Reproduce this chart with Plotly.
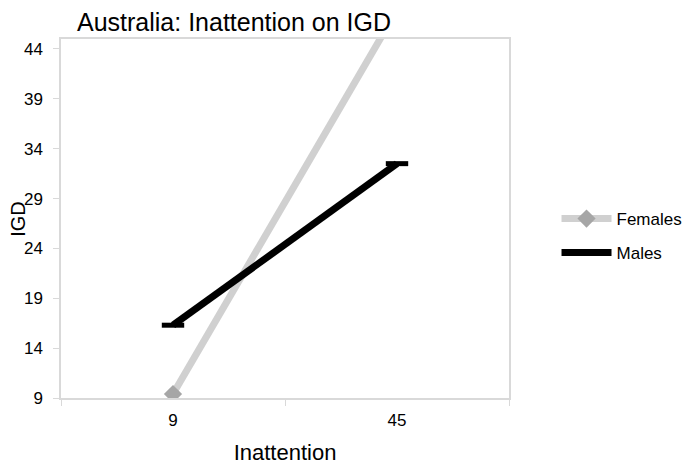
import plotly.graph_objects as go

# Data
inattention = ["9", "45"]
females = [9.4, 47.9]
males = [16.3, 32.5]
y_ticks = [9, 14, 19, 24, 29, 34, 39, 44]

axis_grey = "#d9d9d9"
font_family = "Liberation Sans, Arial, sans-serif"

fig = go.Figure()

fig.add_trace(go.Scatter(
    x=inattention, y=females, name="Females", mode="lines+markers",
    line=dict(color="#d0d0d0", width=7),
    marker=dict(symbol="diamond", size=14, color="#a6a6a6"),
    legend="legend",
))

fig.add_trace(go.Scatter(
    x=inattention, y=males, name="Males", mode="lines+markers",
    line=dict(color="#000000", width=7),
    marker=dict(symbol="line-ew-open", size=16, line=dict(color="#000000", width=5)),
    legend="legend2",
))

# the page body adds an 8px offset, so the plot area is placed at x 53..515, y 31..390
L, R, T, B = 53, 515, 31, 390

def px_x(p):
    return (p - L) / (R - L)

def px_y(p):
    return (B - p) / (B - T)

legend_style = dict(xanchor="left", yanchor="top", font=dict(size=17),
                    itemwidth=50, bgcolor="rgba(0,0,0,0)")

fig.update_layout(
    width=691, height=464,
    paper_bgcolor="white", plot_bgcolor="white",
    margin=dict(l=L, r=691 - R, t=T, b=464 - B),
    font=dict(family=font_family, color="#000000"),
    title=dict(text="Australia: Inattention on IGD", x=69 / 691, xanchor="left",
               y=1 - 14 / 464, yanchor="middle", font=dict(size=25)),
    showlegend=True,
    legend=dict(x=px_x(564), y=px_y(193), **legend_style),
    legend2=dict(x=px_x(564), y=px_y(227), **legend_style),
    annotations=[dict(text="IGD", textangle=-90, xref="paper", yref="paper",
                      x=px_x(8), y=0.5, xanchor="center", yanchor="middle",
                      showarrow=False, font=dict(size=20))],
)

fig.update_xaxes(
    type="category", range=[-0.5, 1.5], automargin=False,
    showline=True, linecolor=axis_grey, linewidth=1.5, mirror=True,
    showgrid=False, zeroline=False,
    ticks="outside", ticklen=6, tickcolor=axis_grey,
    tickson="boundaries",
    tickfont=dict(size=17), ticklabelstandoff=6,
    title=dict(text="Inattention", font=dict(size=22), standoff=15),
)

fig.update_yaxes(
    range=[9, 45], tickvals=y_ticks, automargin=False,
    showline=True, linecolor=axis_grey, linewidth=1.5, mirror=True,
    showgrid=False, zeroline=False,
    ticks="outside", ticklen=6, tickcolor=axis_grey,
    tickfont=dict(size=17), ticklabelstandoff=7,
)

fig.write_html("out.html")
